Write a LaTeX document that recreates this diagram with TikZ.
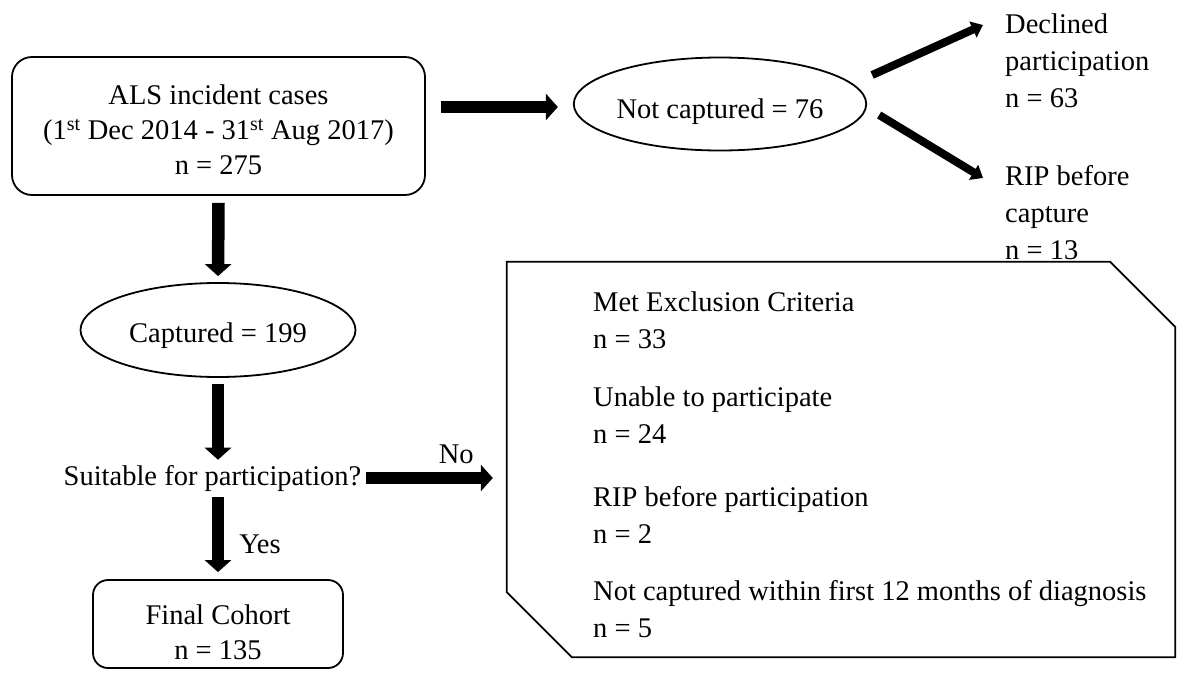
\documentclass[tikz,border=0pt]{standalone}
\usepackage{fontspec}
\setmainfont{Liberation Serif}
\usetikzlibrary{arrows.meta,shapes.geometric,calc}
\begin{document}
\begin{tikzpicture}[x=1pt,y=-1pt,
  txt/.style={inner sep=0pt, font=\fontsize{28.5}{37}\selectfont},
  boxline/.style={draw, line width=1.8pt},
  roundbox/.style={boxline, rounded corners=20pt, inner sep=0pt},
  oval/.style={txt, boxline, ellipse, minimum width=275pt, minimum height=94pt},
  fat/.style={line width=12.5pt, -{Triangle[width=26pt,length=12pt]}},
  thin/.style={line width=8pt, -{Triangle[width=17pt,length=11pt]}},
  lbl/.style={txt}
]
\useasboundingbox (0,0) rectangle (1177,672);
\fill[white] (0,0) rectangle (1177,672);

% main column
\node[roundbox, minimum width=413pt, minimum height=138pt] (als) at (218.5,126) {};
\node[txt, align=center, font=\fontsize{28.5}{35}\selectfont] (alstxt) at (218.5,129.5)
  {ALS incident cases\\(1\textsuperscript{st} Dec 2014 - 31\textsuperscript{st} Aug 2017)\\n = 275};
\node[oval, text height=31pt, text depth=6pt] (cap) at (218,330) {Captured = 199};
\node[txt] (suit) at (212.5,478) {Suitable for participation?};
\node[roundbox, rounded corners=15pt, minimum width=250pt, minimum height=88pt] (fin) at (218,624) {};
\node[txt, align=center, font=\fontsize{28.5}{35}\selectfont] (fintxt) at (218,632) {Final Cohort\\n = 135};

% top branch
\node[oval, minimum width=276pt, minimum height=93pt, text height=34pt, text depth=6pt] (nc) at (720,104) {Not captured = 76};
\node[txt, anchor=west, align=left] (dec) at (1005,61) {Declined\\participation\\n = 63};
\node[txt, anchor=west, align=left] (rip) at (1005,213) {RIP before\\capture\\n = 13};

% exclusion box
\node[inner sep=0pt, minimum width=668pt, minimum height=395pt] (excl) at (841,459.5) {};
\draw[line width=1.8pt, line join=miter]
  (excl.north west) -- ([xshift=-65pt]excl.north east) -- ([yshift=-65pt]excl.north east)
  -- (excl.south east) -- ([xshift=65pt]excl.south west) -- ([yshift=65pt]excl.south west)
  -- cycle;
\node[txt, anchor=west, align=left] (e1) at (593,320) {Met Exclusion Criteria\\n = 33};
\node[txt, anchor=west, align=left] (e2) at (593,415) {Unable to participate\\n = 24};
\node[txt, anchor=west, align=left] (e3) at (593,515) {RIP before participation\\n = 2};
\node[txt, anchor=west, align=left] (e4) at (593,609) {Not captured within first 12 months of diagnosis\\n = 5};

% connectors
\draw[fat] ([xshift=15pt,yshift=-3pt]als.east |- nc.west) -- ([xshift=-15pt,yshift=-3pt]nc.west);
\draw[fat] ([yshift=-7pt]als.south) -- ([yshift=6pt]cap.north);
\draw[fat] ([yshift=-6pt]cap.south) -- ([yshift=5pt]cap.south |- suit.north);
\draw[fat] ([yshift=-6pt]fin.north |- suit.south) -- ([yshift=7pt]fin.north)
  node[lbl, pos=0.63, anchor=west, xshift=15pt] {Yes};
\draw[fat] ([xshift=5pt]suit.east) -- ([xshift=-14pt]excl.west |- suit.east)
  node[lbl, pos=0.71, anchor=south, yshift=8pt] {No};
\draw[thin] ([xshift=5pt,yshift=29pt]nc.east) -- ([xshift=-22pt,yshift=36pt]dec.west);
\draw[thin] ([xshift=12pt,yshift=-11pt]nc.east) -- ([xshift=-22pt,yshift=35pt]rip.west);
\end{tikzpicture}
\end{document}
